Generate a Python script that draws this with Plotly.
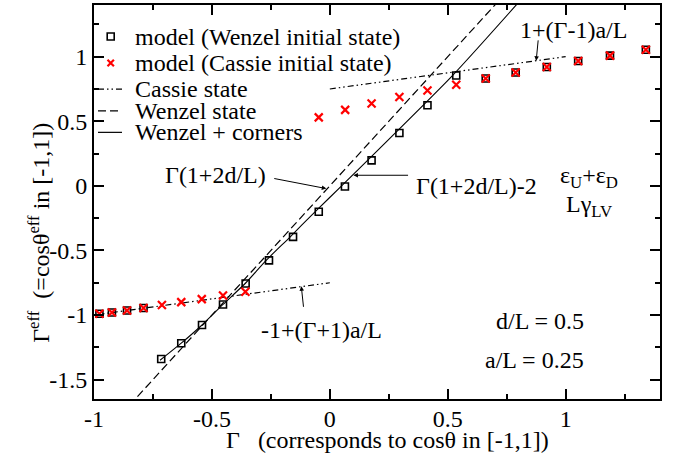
import plotly.graph_objects as go

# ---------------- data ----------------
wenzel_init_x = [-0.977, -0.924, -0.86, -0.79, -0.715, -0.63, -0.542, -0.453, -0.357,
                 -0.258, -0.156, -0.047, 0.064, 0.177, 0.295, 0.414, 0.536, 0.661,
                 0.788, 0.92, 1.053, 1.188, 1.34]
wenzel_init_y = [-0.99, -0.98, -0.965, -0.946, -1.34, -1.218, -1.077, -0.918, -0.756,
                 -0.577, -0.395, -0.2, -0.005, 0.197, 0.409, 0.624, 0.854, 0.831,
                 0.877, 0.92, 0.967, 1.008, 1.054]

cassie_init_x = [-0.977, -0.924, -0.86, -0.79, -0.712, -0.63, -0.543, -0.453, -0.358,
                 -0.047, 0.065, 0.177, 0.295, 0.414, 0.536, 0.661, 0.788, 0.92,
                 1.053, 1.188, 1.34]
cassie_init_y = [-0.99, -0.98, -0.965, -0.946, -0.923, -0.90, -0.877, -0.849, -0.82,
                 0.53, 0.588, 0.637, 0.688, 0.738, 0.782, 0.831, 0.877, 0.92,
                 0.967, 1.008, 1.054]

cassie_low_x = [-1.0, 0.0]
cassie_low_y = [-1.0, -0.75]
cassie_high_x = [0.0, 1.0]
cassie_high_y = [0.75, 1.0]

wenzel_x = [-0.85, 0.72]
wenzel_y = [-1.70, 1.44]

corners_x = [-0.72, -0.63, -0.542, -0.453, -0.357, -0.27, -0.17, -0.065, 0.05, 0.52, 0.80]
corners_y = [-1.35, -1.218, -1.077, -0.918, -0.752, -0.577, -0.398, -0.205, 0.0, 0.854, 1.42]

x_tickvals = [-1, -0.5, 0, 0.5, 1]
x_ticktext = ["-1", "-0.5", "0", "0.5", "1"]
y_tickvals = [-1.5, -1, -0.5, 0, 0.5, 1]
y_ticktext = ["-1.5", "-1", "-0.5", "0", "0.5", "1"]

legend_labels = ["model (Wenzel initial state)", "model (Cassie initial state)",
                 "Cassie state", "Wenzel state", "Wenzel + corners"]

# ---------------- layout constants ----------------
W, H = 675, 455
ML, MR, MT, MB = 94, 15, 3, 56
PW, PH = W - ML - MR, H - MT - MB
FONT = "Liberation Serif, Times New Roman, serif"
FS = 24
CASSIE_DASH = "6px,3px,1.5px,3px,1.5px,3px"
WENZEL_DASH = "8px,4px"


def fx(px):
    return (px - ML) / PW


def fy(py):
    return (H - MB - py) / PH


fig = go.Figure()

fig.add_trace(go.Scatter(x=wenzel_x, y=wenzel_y, mode="lines",
                         line=dict(color="black", width=1.2, dash=WENZEL_DASH),
                         showlegend=False, hoverinfo="skip"))
fig.add_trace(go.Scatter(x=corners_x, y=corners_y, mode="lines",
                         line=dict(color="black", width=1.1, shape="spline", smoothing=0.6),
                         showlegend=False, hoverinfo="skip"))
fig.add_trace(go.Scatter(x=cassie_low_x, y=cassie_low_y, mode="lines",
                         line=dict(color="black", width=1.2, dash=CASSIE_DASH),
                         showlegend=False, hoverinfo="skip"))
fig.add_trace(go.Scatter(x=cassie_high_x, y=cassie_high_y, mode="lines",
                         line=dict(color="black", width=1.2, dash=CASSIE_DASH),
                         showlegend=False, hoverinfo="skip"))
SQ = dict(symbol="square-open", size=7, color="black", line=dict(color="black", width=1.6))
XM = dict(symbol="x-thin-open", size=8, color="red", line=dict(color="red", width=2.2))
fig.add_trace(go.Scatter(x=wenzel_init_x, y=wenzel_init_y, mode="markers", marker=SQ,
                         name=legend_labels[0], showlegend=False))
fig.add_trace(go.Scatter(x=cassie_init_x, y=cassie_init_y, mode="markers", marker=XM,
                         name=legend_labels[1], showlegend=False))

# ---------------- hand-built legend (tight xmgrace-like spacing) ----------------
rows = [34.7, 61.3, 87.5, 109.5, 131.0]
shapes = []
sq_half = 3.5
shapes.append(dict(type="rect", xref="paper", yref="paper",
                   x0=fx(110.7 - sq_half), x1=fx(110.7 + sq_half),
                   y0=fy(rows[0] + sq_half), y1=fy(rows[0] - sq_half),
                   line=dict(color="black", width=1.6)))
xh = 3.2
shapes.append(dict(type="path", xref="paper", yref="paper",
                   path=(f"M{fx(110.7 - xh)},{fy(rows[1] - xh)} L{fx(110.7 + xh)},{fy(rows[1] + xh)} "
                         f"M{fx(110.7 - xh)},{fy(rows[1] + xh)} L{fx(110.7 + xh)},{fy(rows[1] - xh)}"),
                   line=dict(color="red", width=2.2)))
for r, dash in zip(rows[2:], [CASSIE_DASH, WENZEL_DASH, "solid"]):
    shapes.append(dict(type="line", xref="paper", yref="paper",
                       x0=fx(98), x1=fx(122), y0=fy(r), y1=fy(r),
                       line=dict(color="black", width=1.2, dash=dash)))

ann = []
for r, lab in zip(rows, legend_labels):
    ann.append(dict(x=fx(133), y=fy(r), xref="paper", yref="paper", text=lab,
                    showarrow=False, xanchor="left", yanchor="middle"))

ARW = dict(showarrow=True, arrowhead=2, arrowsize=0.9, arrowwidth=1,
           arrowcolor="black", axref="x", ayref="y", text="")
ann += [
    dict(x=1.033, y=1.208, text="1+(Γ-1)a/L", showarrow=False),
    dict(x=0.875, y=0.969, ax=0.884, ay=1.138, **ARW),
    dict(x=-0.483, y=0.085, text="Γ(1+2d/L)", showarrow=False),
    dict(x=-0.015, y=-0.021, ax=-0.242, ay=0.059, **ARW),
    dict(x=0.623, y=0.0, text="Γ(1+2d/L)-2", showarrow=False),
    dict(x=1.10, y=0.07, text="ε<sub>U</sub>+ε<sub>D</sub>", showarrow=False),
    dict(x=1.10, y=-0.155, text="Lγ<sub>LV</sub>", showarrow=False),
    dict(x=0.10, y=0.082, ax=0.338, ay=0.082, **ARW),
    dict(x=-0.036, y=-1.115, text="-1+(Γ+1)a/L", showarrow=False),
    dict(x=-0.121, y=-0.778, ax=-0.111, ay=-0.948, **ARW),
    dict(x=1.086, y=-1.046, text="d/L = 0.5", showarrow=False, xanchor="right"),
    dict(x=1.086, y=-1.346, text="a/L = 0.25", showarrow=False, xanchor="right"),
    # axis titles
    dict(x=fx(387.5), y=fy(440), xref="paper", yref="paper", xanchor="center",
         yanchor="middle",
         text="Γ\u00a0\u00a0\u00a0(corresponds to cosθ in [-1,1])", showarrow=False),
    dict(x=fx(39), y=fy(232), xref="paper", yref="paper", textangle=-90,
         xanchor="center", yanchor="middle",
         text="Γ<sup>eff</sup>\u00a0\u00a0(=cosθ<sup>eff</sup> in [-1,1])", showarrow=False),
]

axis_common = dict(showgrid=False, zeroline=False, showline=True, linecolor="black",
                   linewidth=2, mirror="allticks", ticks="inside", ticklen=10,
                   tickwidth=1.8, tickcolor="black",
                   tickfont=dict(family=FONT, size=FS, color="black"))

fig.update_layout(
    width=W, height=H,
    margin=dict(l=ML, r=MR, t=MT, b=MB),
    paper_bgcolor="white", plot_bgcolor="white",
    font=dict(family=FONT, size=FS, color="black"),
    showlegend=False,
    annotations=ann,
    shapes=shapes,
    xaxis=dict(range=[-1, 1.4], tickvals=x_tickvals, ticktext=x_ticktext,
               ticklabelstandoff=-3,
               minor=dict(dtick=0.25, tick0=0, ticks="inside", ticklen=5,
                          tickwidth=1.5, tickcolor="black"),
               **axis_common),
    yaxis=dict(range=[-1.65, 1.4], tickvals=y_tickvals, ticktext=y_ticktext,
               minor=dict(dtick=0.25, tick0=0, ticks="inside", ticklen=5,
                          tickwidth=1.5, tickcolor="black"),
               **axis_common),
)

fig.write_html("out.html")
